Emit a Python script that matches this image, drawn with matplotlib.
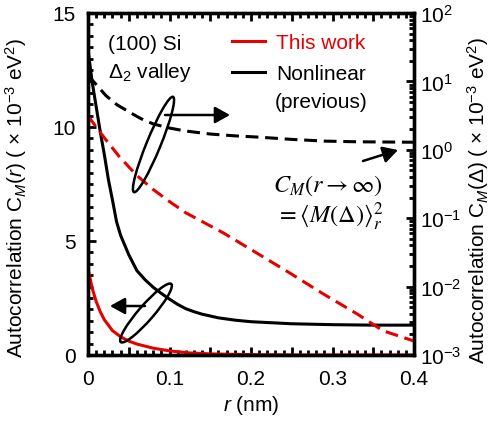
import matplotlib
matplotlib.use("Agg")
import matplotlib.pyplot as plt
from matplotlib.ticker import MultipleLocator, FuncFormatter, LogLocator, NullFormatter
from matplotlib.patches import Ellipse, FancyArrowPatch
from matplotlib.transforms import IdentityTransform
from matplotlib.lines import Line2D

plt.rcParams['font.family'] = ['Liberation Sans', 'DejaVu Sans']
plt.rcParams['mathtext.fontset'] = 'custom'
plt.rcParams['mathtext.rm'] = 'Liberation Sans'
plt.rcParams['mathtext.it'] = 'Liberation Sans:italic'
plt.rcParams['mathtext.bf'] = 'Liberation Sans:bold'

# ---- data ----
r_red_solid = [0, 0.005, 0.01, 0.015, 0.02, 0.03, 0.04, 0.05, 0.06, 0.08, 0.1, 0.125, 0.15, 0.2, 0.25, 0.4]
c_red_solid = [3.8, 2.95, 2.35, 1.9, 1.55, 1.07, 0.8, 0.61, 0.48, 0.3, 0.18, 0.09, 0.05, 0.015, 0.0, 0.0]

r_blk_solid = [0, 0.005, 0.01, 0.015, 0.02, 0.025, 0.03, 0.035, 0.04, 0.05, 0.06, 0.07, 0.08, 0.09, 0.1,
               0.11, 0.12, 0.13, 0.14, 0.16, 0.18, 0.2, 0.25, 0.3, 0.35, 0.4]
c_blk_solid = [13.4, 12.0, 10.9, 9.8, 8.8, 7.7, 6.8, 5.85, 5.25, 4.4, 3.7, 3.3, 2.97, 2.7, 2.45,
               2.22, 2.03, 1.9, 1.79, 1.63, 1.53, 1.46, 1.37, 1.33, 1.31, 1.31]

r_blk_dash = [0, 0.01, 0.022, 0.035, 0.05, 0.065, 0.08, 0.1, 0.12, 0.15, 0.18, 0.21, 0.25, 0.29, 0.33, 0.4]
c_blk_dash = [12.3, 9.0, 6.2, 4.6, 3.6, 2.85, 2.39, 2.08, 1.88, 1.7, 1.6, 1.53, 1.42, 1.34, 1.31, 1.29]

r_red_dash = [0, 0.02, 0.038, 0.06, 0.08, 0.1, 0.12, 0.166, 0.207, 0.248, 0.288, 0.33, 0.362, 0.4]
c_red_dash = [3.13, 1.5, 0.805, 0.42, 0.263, 0.175, 0.12, 0.061, 0.031, 0.0157, 0.0079, 0.0040, 0.00226, 0.0016]

legend_labels = ["This work", "Nonlinear"]
red = '#e60000'

W, H = 493, 435
fig = plt.figure(figsize=(W / 100, H / 100), dpi=100)
x0, x1, y0, y1 = 88, 414, 14, 356
ax = fig.add_axes([x0 / W, (H - y1) / H, (x1 - x0) / W, (y1 - y0) / H])
ax2 = ax.twinx()

lw = 2.2
dash = (0, (4.2, 2.2))
ax.plot(r_blk_solid, c_blk_solid, color='black', lw=lw, solid_capstyle='butt')
ax.plot(r_red_solid, c_red_solid, color=red, lw=lw, solid_capstyle='butt')
ax2.plot(r_blk_dash, c_blk_dash, color='black', lw=lw, ls=dash)
ax2.plot(r_red_dash, c_red_dash, color=red, lw=lw, ls=dash)

ax.set_xlim(0, 0.4)
ax.set_ylim(0, 15)
ax2.set_yscale('log')
ax2.set_ylim(1e-3, 1e2)

fs = 15
ax.xaxis.set_major_locator(MultipleLocator(0.05))
ax.xaxis.set_minor_locator(MultipleLocator(0.01))
ax.xaxis.set_major_formatter(FuncFormatter(
    lambda v, p: ('0' if abs(v) < 1e-9 else f'{v:.1f}') if abs(round(v / 0.1) * 0.1 - v) < 1e-6 else ''))
ax.yaxis.set_major_locator(MultipleLocator(5))
ax.yaxis.set_minor_locator(MultipleLocator(0.5))
ax2.yaxis.set_major_locator(LogLocator(base=10, numticks=10))
ax2.yaxis.set_minor_locator(LogLocator(base=10, subs=range(2, 10), numticks=20))
ax2.yaxis.set_minor_formatter(NullFormatter())

ax.tick_params(axis='both', which='major', direction='in', length=6, width=2.0,
               labelsize=fs, top=True, right=False)
ax.tick_params(axis='both', which='minor', direction='in', length=3.5, width=2.0,
               top=True, right=False)
ax.tick_params(axis='y', which='major', pad=9)
ax.tick_params(axis='x', which='major', pad=10)
ax2.tick_params(axis='y', which='major', direction='in', length=6, width=2.0, labelsize=fs, pad=4)
ax2.tick_params(axis='y', which='minor', direction='in', length=3.5, width=2.0)

for a in (ax, ax2):
    for s in a.spines.values():
        s.set_linewidth(2.4)

lfs = 15
ax.set_xlabel(r'$\mathit{r}$ (nm)', fontsize=fs, labelpad=4)
ax.set_ylabel(r'Autocorrelation C$_{\mathit{M}}$($\mathit{r}$) ( × 10$^{-3}$ eV$^{2}$)', fontsize=lfs)
ax2.set_ylabel(r'Autocorrelation C$_{\mathit{M}}$($\Delta$) ( × 10$^{-3}$ eV$^{2}$)', fontsize=lfs,
               rotation=90)
ax.yaxis.set_label_coords((29 - x0) / (x1 - x0), 1 - (198 - y0) / (y1 - y0))
ax2.yaxis.set_label_coords((465 - x0) / (x1 - x0), 1 - (200 - y0) / (y1 - y0))

# legend
handles = [Line2D([], [], color=red, lw=lw), Line2D([], [], color='black', lw=lw)]
leg = ax.legend(handles, legend_labels, loc='upper left',
                bbox_to_anchor=((232 - x0) / (x1 - x0), 1 - (34 - y0) / (y1 - y0)),
                frameon=False, fontsize=fs, handlelength=1.6, handletextpad=0.5, borderpad=0,
                borderaxespad=0, labelspacing=0.6)
leg.get_texts()[0].set_color(red)
fig.text(275 / W, 1 - 102 / H, '(previous)', fontsize=fs, va='center', ha='left')

fig.text(108 / W, 1 - 44 / H, '(100) Si', fontsize=fs, va='center', ha='left')
fig.text(108 / W, 1 - 73 / H, r'$\Delta_2$ valley', fontsize=fs, va='center', ha='left')

fig.text(383 / W, 1 - 186 / H, r'$C_M(r\rightarrow\infty)$', fontsize=17.5, ha='right', va='center',
         math_fontfamily='stix')
fig.text(383 / W, 1 - 217 / H, r'$=\langle M(\Delta)\rangle_r^2$', fontsize=17.5, ha='right', va='center',
         math_fontfamily='stix')

# ellipses and arrows (pixel coordinates)
idt = IdentityTransform()
def P(x, y):
    return (x, H - y)

for (cx, cy, L, w, ang) in [(153.5, 145.5, 103, 14, 67.7), (146, 314, 77, 15, 49)]:
    e = Ellipse(P(cx, cy), L, w, angle=ang, fill=False, ec='black', lw=1.8, transform=idt)
    fig.add_artist(e)

for (sx, sy, ex, ey) in [(165, 116, 230, 116), (145, 307, 110, 307), (363, 162, 398, 151)]:
    a = FancyArrowPatch(P(sx, sy), P(ex, ey), arrowstyle='-|>,head_length=9,head_width=5',
                        mutation_scale=1, lw=1.8, color='black', transform=idt, shrinkA=0, shrinkB=0)
    fig.add_artist(a)

fig.savefig('out.png', dpi=100)
